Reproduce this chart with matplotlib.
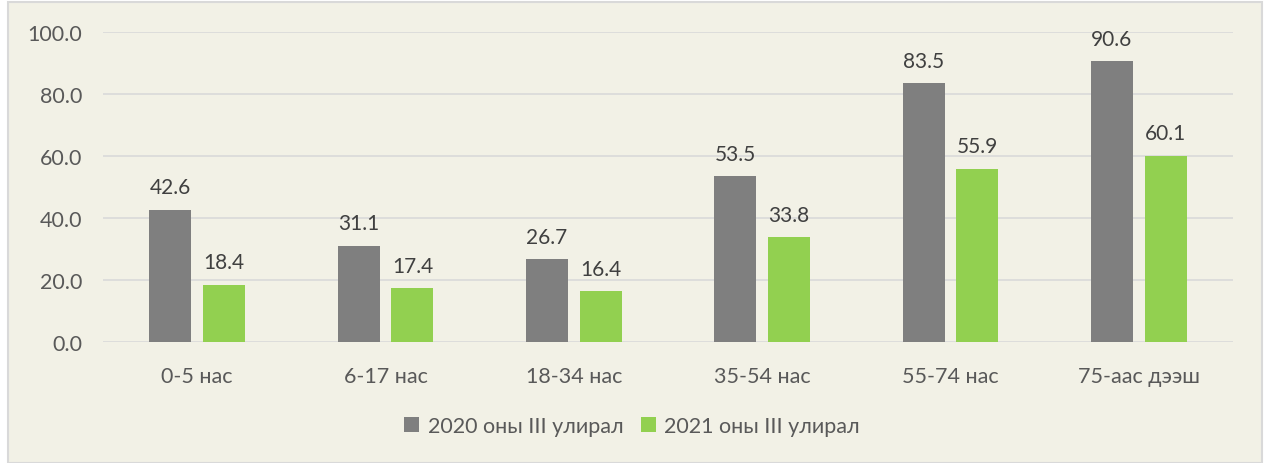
import matplotlib.pyplot as plt
import numpy as np
from matplotlib.patches import Rectangle

categories = ['0-5 нас', '6-17 нас', '18-34 нас', '35-54 нас', '55-74 нас', '75-аас дээш']
y2020 = [42.6, 31.1, 26.7, 53.5, 83.5, 90.6]
y2021 = [18.4, 17.4, 16.4, 33.8, 55.9, 60.1]
labels = ['2020 оны III улирал', '2021 оны III улирал']

plt.rcParams['font.family'] = ['Lato', 'DejaVu Sans']

bg = '#F2F1E6'
txt = '#595959'

fig = plt.figure(figsize=(12.64, 4.64), dpi=100)
fig.patch.set_facecolor('white')
fig.patches.append(Rectangle((8 / 1264, 0), 1254 / 1264, 461 / 464, transform=fig.transFigure,
                             facecolor=bg, edgecolor='#D9D9D9', lw=1.5, zorder=-1))

ax = fig.add_axes([103 / 1264, 121 / 464, 1130 / 1264, 310 / 464])
ax.set_facecolor('none')

x = np.arange(len(categories))
w = 0.223
off = 0.143
b1 = ax.bar(x - off, y2020, w, color='#7F7F7F', label=labels[0], zorder=3)
b2 = ax.bar(x + off, y2021, w, color='#92D050', label=labels[1], zorder=3)

for bars, vals in ((b1, y2020), (b2, y2021)):
    for b, v in zip(bars, vals):
        ax.annotate(f'{v:.1f}', (b.get_x() + b.get_width() / 2, v), xytext=(0, 9),
                    textcoords='offset points', ha='center', va='bottom',
                    fontsize=15, color='#404040')

ax.set_xlim(-0.5, len(categories) - 0.5)
ax.set_ylim(0, 100)
ax.set_yticks(np.arange(0, 101, 20))
ax.set_yticklabels([f'{t:.1f}' for t in np.arange(0, 101, 20)])
ax.set_xticks(x)
ax.set_xticklabels(categories)
ax.tick_params(axis='both', length=0, labelsize=15.5, colors=txt)
ax.tick_params(axis='y', pad=15)
ax.tick_params(axis='x', pad=17)
ax.grid(axis='y', color='#D9D9D9', lw=1.2, zorder=0)
for s in ax.spines.values():
    s.set_visible(False)

fig.legend(loc='center', bbox_to_anchor=(0.5, 0.08), ncol=2, frameon=False,
           fontsize=15.5, labelcolor=txt, handlelength=0.7, handleheight=0.7,
           handletextpad=0.4, columnspacing=0.8)

fig.savefig('out.png', dpi=100, facecolor=fig.get_facecolor())
